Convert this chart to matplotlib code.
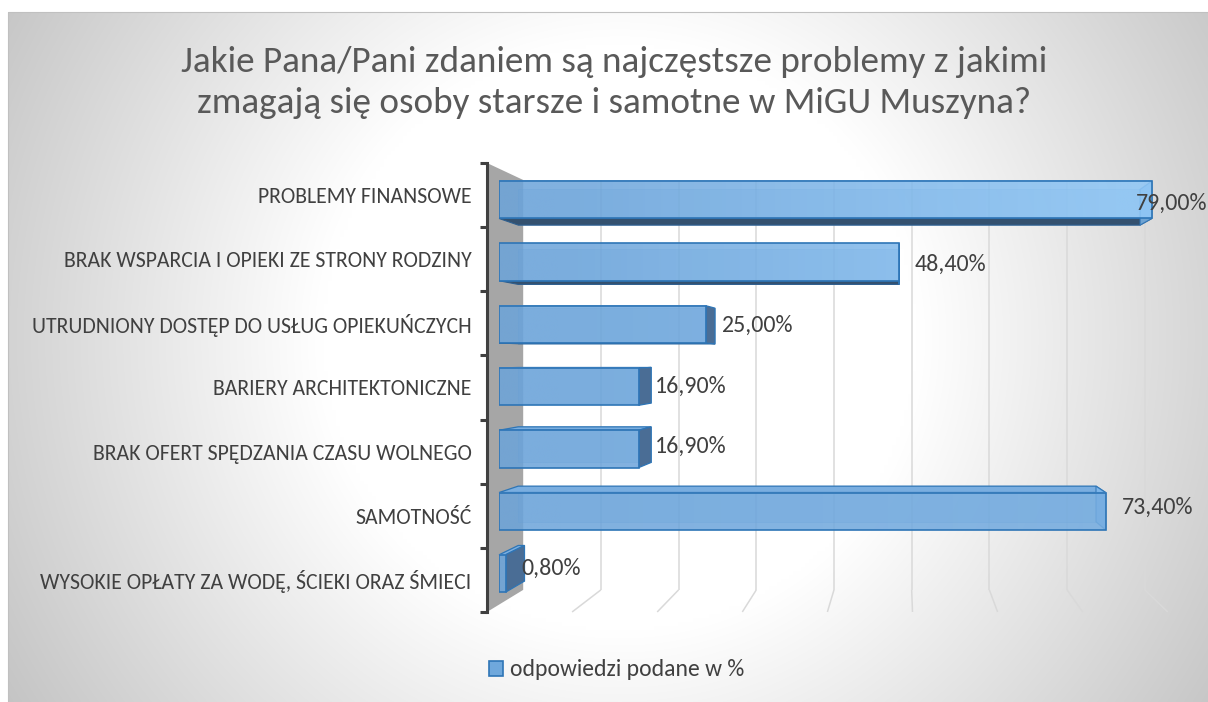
import numpy as np
import matplotlib
matplotlib.use("Agg")
import matplotlib.pyplot as plt
from matplotlib import font_manager
from matplotlib.patches import Polygon, Rectangle, Patch

# ---------------- data ----------------
title_lines = ["Jakie Pana/Pani zdaniem są najczęstsze problemy z jakimi",
               "zmagają się osoby starsze i samotne w MiGU Muszyna?"]
categories = ["PROBLEMY FINANSOWE",
              "BRAK WSPARCIA I OPIEKI ZE STRONY RODZINY",
              "UTRUDNIONY DOSTĘP DO USŁUG OPIEKUŃCZYCH",
              "BARIERY ARCHITEKTONICZNE",
              "BRAK OFERT SPĘDZANIA CZASU WOLNEGO",
              "SAMOTNOŚĆ",
              "WYSOKIE OPŁATY ZA WODĘ, ŚCIEKI ORAZ ŚMIECI"]
values = [79.0, 48.4, 25.0, 16.9, 16.9, 73.4, 0.8]
series_name = "odpowiedzi podane w %"
grid_ticks = [10, 20, 30, 40, 50, 60, 70, 80]

# ---------------- fonts ----------------
def pick_font(cands):
    for c in cands:
        try:
            font_manager.findfont(c, fallback_to_default=False)
            return c
        except Exception:
            pass
    return "DejaVu Sans"

FONT = pick_font(["Carlito", "Lato", "Open Sans"])
plt.rcParams["font.family"] = [FONT, "DejaVu Sans"]

# ---------------- geometry (pixel space of the 3-D view) ----------------
W, H, DPI = 1208, 702, 100
VPX, VPY = 903.0, 358.0          # vanishing point
X0, PXPCT = 487.0, 8.51          # front plane: 0 % position, px per %
Y0, PXROW = 163.0, 64.14         # front plane: top, px per category row
XMAX = 90
NROW = len(categories)
S_WALL = 0.913                   # back wall depth scale
S_BF, S_BB = 0.971, 0.925        # bar front / back depth scale
BAR_H = 0.6

def proj(v, r, s):
    return (VPX + (X0 + v * PXPCT - VPX) * s,
            VPY + (Y0 + r * PXROW - VPY) * s)

fig = plt.figure(figsize=(W / DPI, H / DPI), dpi=DPI)
fig.patch.set_facecolor("white")

def px_axes(z):
    a = fig.add_axes([0, 0, 1, 1], zorder=z)
    a.set_xlim(0, W)
    a.set_ylim(H, 0)
    a.axis("off")
    a.patch.set_visible(False)
    return a

def plane_axes(s, z):
    l, t = proj(0, 0, s)
    r, b = proj(XMAX, NROW, s)
    a = fig.add_axes([l / W, 1 - b / H, (r - l) / W, (b - t) / H], zorder=z)
    a.set_xlim(0, XMAX)
    a.set_ylim(NROW, 0)
    a.patch.set_visible(False)
    for sp in a.spines.values():
        sp.set_visible(False)
    a.set_xticks([])
    a.set_yticks([])
    return a

# ---------------- background ----------------
ax_bg = px_axes(0)
gx, gy = np.meshgrid(np.arange(0, W + 8, 4), np.arange(0, H + 4, 4))
rr = np.hypot(gx - 614, gy - 330)
t = np.clip((rr - 300) / 450.0, 0, 1)
g = (255 - t * 63) / 255.0
img = np.dstack([g, g, g])
ax_bg.imshow(img, extent=(8, W + 8, H + 4, 12), aspect="auto",
             interpolation="bilinear", zorder=0)
ax_bg.plot([8, 8, W + 5], [H + 2, 12, 12], color="#c0c0c0", lw=0.8, zorder=1)
ax_bg.set_xlim(0, W)
ax_bg.set_ylim(H, 0)

# side wall
wall = Polygon([proj(0, 0, 1), proj(0, 0, S_WALL), proj(0, NROW, S_WALL),
                proj(0, NROW, 1)], closed=True, facecolor="#a6a6a6",
               edgecolor="none", zorder=2)
ax_bg.add_patch(wall)
# floor grid lines
for v in grid_ticks:
    p1 = proj(v, NROW, S_WALL)
    p2 = proj(v, NROW, 1)
    ax_bg.plot([p1[0], p2[0]], [p1[1], p2[1]], color="#d9d9d9", lw=1.1,
               solid_capstyle="butt", zorder=2)

# back wall grid lines
ax_back = plane_axes(S_WALL, 1)
ax_back.vlines(grid_ticks, 0, NROW, color="#d9d9d9", lw=1.1)

# ---------------- bar side faces ----------------
ax_mid = px_axes(2)
for i, v in enumerate(values):
    yt, yb = i + (1 - BAR_H) / 2, i + (1 + BAR_H) / 2
    F = lambda x, y: proj(x, y, S_BF)
    B = lambda x, y: proj(x, y, S_BB)
    bl, bt = B(0, yt)
    br, bb = B(v, yb)
    ax_mid.add_patch(Rectangle((bl, bt), br - bl, bb - bt, facecolor="#5b9bd5",
                               alpha=0.25, edgecolor="#2e75b6", lw=0.6, zorder=2))
    if F(v, yb)[1] < VPY:
        ax_mid.add_patch(Polygon([F(0, yb), F(v, yb), B(v, yb), B(0, yb)],
                                 closed=True, facecolor="#34516f",
                                 edgecolor="#2e5f8f", lw=0.8, zorder=3))
    if F(v, yt)[1] > VPY:
        ax_mid.add_patch(Polygon([F(0, yt), F(v, yt), B(v, yt), B(0, yt)],
                                 closed=True, facecolor="#7aaee0",
                                 edgecolor="#2e75b6", lw=0.9, zorder=3))
    cap = [F(v, yt), F(v, yb), B(v, yb), B(v, yt)]
    if F(v, yt)[0] < VPX:
        ax_mid.add_patch(Polygon(cap, closed=True, facecolor="#4a6d95",
                                 edgecolor="#2e75b6", lw=0.9, zorder=3))
    else:
        ax_mid.add_patch(Polygon(cap, closed=True, facecolor="#7fb8ec",
                                 alpha=0.8, edgecolor="#2e75b6", lw=0.9,
                                 zorder=3))

# ---------------- bar front faces ----------------
ax_bar = plane_axes(S_BF, 3)
rows = np.arange(NROW) + 0.5
bars = ax_bar.barh(rows, values, height=BAR_H, facecolor="none",
                   edgecolor="#2e75b6", lw=1.2, zorder=3)
light_w = [1.0, 1.0, 0.45, 0.3, 0.3, 0.25, 0.0]
c_base = np.array([0x6c, 0xa4, 0xda]) / 255.0
c_light = np.array([0x8e, 0xc6, 0xf6]) / 255.0
for i, v in enumerate(values):
    n = 64
    xs = np.linspace(0, v, n)
    xpx = np.array([proj(x, 0, S_BF)[0] for x in xs])
    tt = np.clip((xpx - 560) / 560.0, 0, 1) * light_w[i]
    cols = c_base[None, :] * (1 - tt[:, None]) + c_light[None, :] * tt[:, None]
    rgba = np.concatenate([cols, np.full((n, 1), 0.86)], axis=1)[None, :, :]
    ax_bar.imshow(rgba, extent=(0, v, rows[i] + BAR_H / 2, rows[i] - BAR_H / 2),
                  aspect="auto", interpolation="bilinear", zorder=2)
ax_bar.set_xlim(0, XMAX)
ax_bar.set_ylim(NROW, 0)

# ---------------- front plane: axis line, ticks, category labels ----------------
ax_front = plane_axes(1.0, 4)
ax_front.spines["left"].set_visible(True)
ax_front.spines["left"].set_color("#404040")
ax_front.spines["left"].set_linewidth(2.2)
ax_front.set_yticks(np.arange(NROW + 1))
ax_front.set_yticklabels([])
ax_front.tick_params(axis="y", which="major", length=5, width=2.2,
                     color="#404040", direction="out")
ax_front.set_yticks(rows, minor=True)
ax_front.set_yticklabels(categories, minor=True, fontsize=15.7, color="#404040")
ax_front.tick_params(axis="y", which="minor", length=0, pad=11)
ax_front.set_xlim(0, XMAX)
ax_front.set_ylim(NROW, 0)

# ---------------- data labels ----------------
ax_top = px_axes(5)
labels = []
for i, v in enumerate(values):
    fx = proj(v, rows[i], S_BF)[0]
    my = proj(v, rows[i], (S_BF + S_BB) / 2)[1]
    txt = f"{v:.2f}".replace(".", ",") + "%"
    tx = ax_top.text(fx + 16, my, txt, ha="left", va="center",
                     fontsize=17.2, color="#404040", zorder=6)
    labels.append(tx)

# ---------------- title ----------------
fig.text(614 / W, 1 - 62 / H, title_lines[0], ha="center", va="center",
         fontsize=26.7, color="#595959")
fig.text(614 / W, 1 - 103 / H, title_lines[1], ha="center", va="center",
         fontsize=26.7, color="#595959")

# ---------------- legend ----------------
handle = Patch(facecolor="#6fa8dc", edgecolor="#2e75b6", lw=1.2)
fig.legend([handle], [series_name], loc="center", bbox_to_anchor=(617 / W, 1 - 670 / H),
           frameon=False, fontsize=17, handlelength=0.6, handleheight=0.6,
           handletextpad=0.3, labelcolor="#404040")

# clamp data labels inside the chart
fig.canvas.draw()
rend = fig.canvas.get_renderer()
for tx in labels:
    bb = tx.get_window_extent(rend)
    if bb.x1 > W - 1:
        x, y = tx.get_position()
        tx.set_position((W - 1, y))
        tx.set_ha("right")

fig.savefig("out.png", dpi=DPI, facecolor="white")
